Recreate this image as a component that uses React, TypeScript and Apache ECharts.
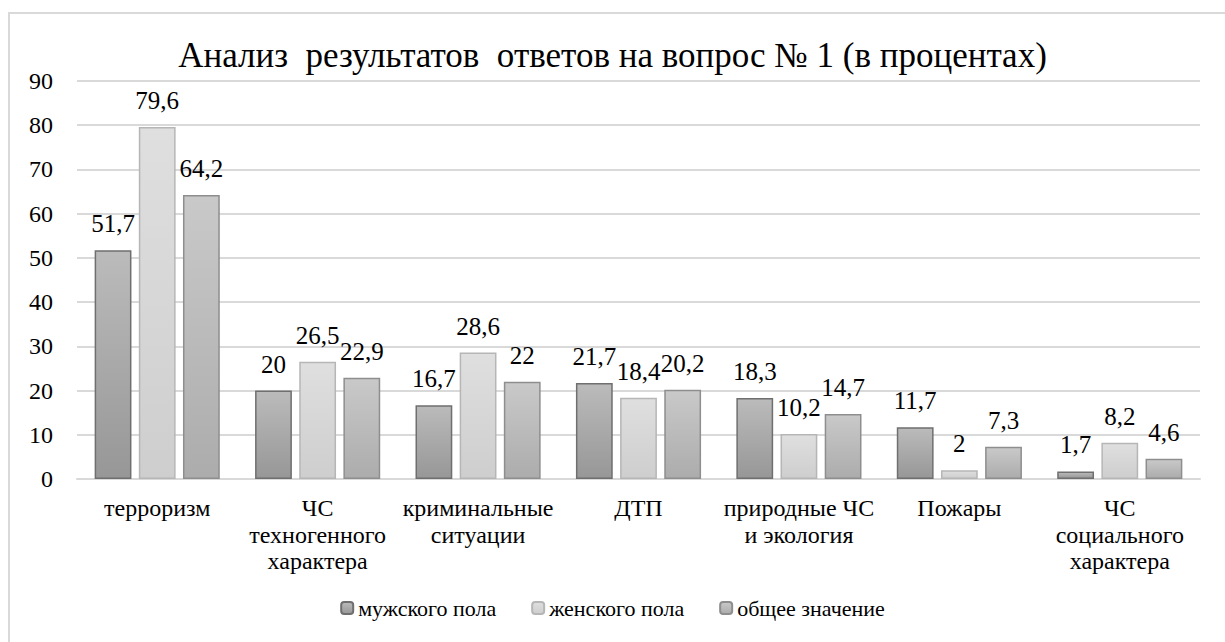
import React, { useEffect, useRef } from "react";
import * as echarts from "echarts";

const categories = [
  "терроризм",
  "ЧС\nтехногенного\nхарактера",
  "криминальные\nситуации",
  "ДТП",
  "природные ЧС\nи экология",
  "Пожары",
  "ЧС\nсоциального\nхарактера",
];
const male = [51.7, 20, 16.7, 21.7, 18.3, 11.7, 1.7];
const female = [79.6, 26.5, 28.6, 18.4, 10.2, 2, 8.2];
const total = [64.2, 22.9, 22, 20.2, 14.7, 7.3, 4.6];
const seriesNames = ["мужского пола", "женского пола", "общее значение"];
const yTicks = { min: 0, max: 90, interval: 10 };

const FONT = "Liberation Serif";

function grad(top: string, bottom: string) {
  return new echarts.graphic.LinearGradient(0, 0, 0, 1, [
    { offset: 0, color: top },
    { offset: 1, color: bottom },
  ]);
}

export default function App() {
  const ref = useRef<HTMLDivElement>(null);
  useEffect(() => {
    const chart = echarts.init(ref.current!, null, { renderer: "svg" });
    const label = {
      show: true,
      position: "top",
      distance: 14,
      fontFamily: FONT,
      fontSize: 25,
      color: "#000",
      formatter: (p: any) => String(p.value).replace(".", ","),
    };
    const styles = [
      { c: grad("#babbba", "#979797"), b: "#6f6f6f" },
      { c: grad("#dfdfdf", "#cecece"), b: "#b6b6b6" },
      { c: grad("#c9c9c9", "#acacac"), b: "#8e8e8e" },
    ];
    const datas = [male, female, total];
    chart.setOption({
      animation: false,
      textStyle: { fontFamily: FONT },
      title: {
        text: "Анализ  результатов  ответов на вопрос № 1 (в процентах)",
        left: "center",
        top: 33,
        textStyle: { fontFamily: FONT, fontSize: 35, fontWeight: "normal", color: "#000" },
      },
      legend: {
        bottom: 18,
        left: "center",
        itemWidth: 12,
        itemHeight: 12,
        itemGap: 35,
        textStyle: { fontFamily: FONT, fontSize: 22, color: "#000" },
        data: seriesNames,
      },
      grid: { left: 77, right: 25, top: 81, bottom: 163 },
      xAxis: {
        type: "category",
        data: categories,
        axisLine: { lineStyle: { color: "#d9d9d9", width: 2 } },
        axisTick: { show: false },
        axisLabel: { interval: 0, fontFamily: FONT, fontSize: 24, color: "#000", lineHeight: 26.5, margin: 16 },
      },
      yAxis: {
        type: "value",
        min: yTicks.min,
        max: yTicks.max,
        interval: yTicks.interval,
        axisLine: { show: false },
        axisTick: { show: false },
        splitLine: { lineStyle: { color: "#d9d9d9", width: 2 } },
        axisLabel: { fontFamily: FONT, fontSize: 24, color: "#000", margin: 24 },
      },
      graphic: [
        {
          type: "rect",
          shape: { x: 9, y: 13, width: 1240, height: 660 },
          style: { fill: "none", stroke: "#d9d9d9", lineWidth: 2 },
          silent: true,
        },
      ],
      series: datas.map((d, i) => ({
        name: seriesNames[i],
        type: "bar",
        data: d,
        barGap: "20%",
        barCategoryGap: "22%",
        itemStyle: { color: styles[i].c, borderColor: styles[i].b, borderWidth: 1.5 },
        label,
      })),
    });
    return () => chart.dispose();
  }, []);
  return (
    <div style={{ position: "absolute", left: 0, top: 0 }}>
      <style>{`svg text { font-family: "Liberation Serif", "Times New Roman", Tinos, serif !important; }`}</style>
      <div ref={ref} style={{ width: 1225, height: 642 }} />
    </div>
  );
}
